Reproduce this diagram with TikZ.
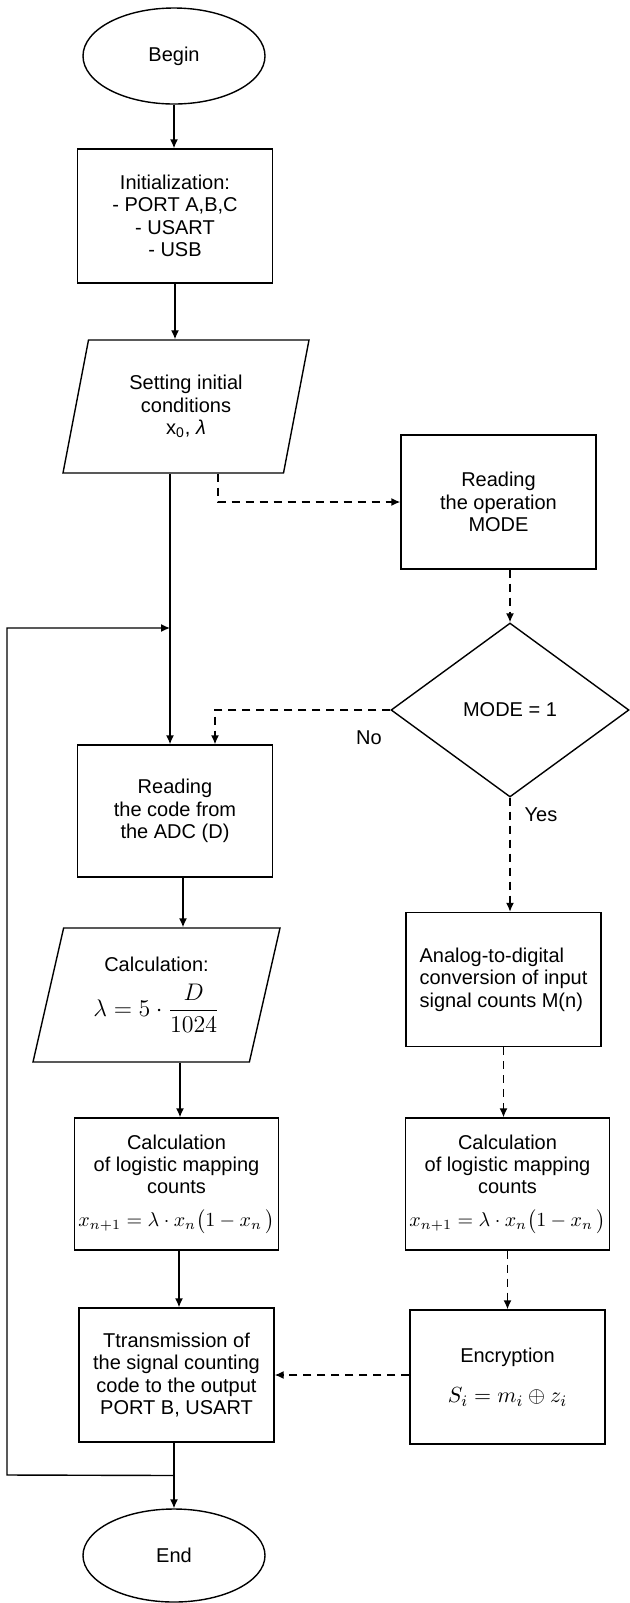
\documentclass[tikz,border=0pt]{standalone}
\usepackage{fontspec}
\setmainfont{Liberation Sans}
\usetikzlibrary{shapes.geometric,arrows.meta,calc}
\begin{document}
\begin{tikzpicture}[x=0.5pt,y=-0.5pt,
  font=\fontsize{10}{11.2}\selectfont,
  line width=0.7pt,
  arr/.style={-{Latex[length=4.5pt,width=4pt]}},
  darr/.style={arr, dash pattern=on 4pt off 3pt},
  box/.style={draw, rectangle, minimum width=97.5pt, minimum height=67pt, align=center, inner sep=2pt},
  term/.style={draw, ellipse, minimum width=91pt, minimum height=48pt},
  para/.style={draw, trapezium, trapezium left angle=69, trapezium right angle=111,
    trapezium stretches body, minimum width=123pt, minimum height=66.5pt, align=center, inner sep=1pt},
  dec/.style={draw, diamond, minimum width=119pt, minimum height=87pt, inner sep=0pt}
]
\useasboundingbox (0,0) rectangle (629,1603);

\node[term] (begin) at (174,56) {Begin};
\node[box] (init) at (175,216) {Initialization:\\- PORT A,B,C\\- USART\\- USB};
\node[para] (set) at (186,406.5) {Setting initial\\conditions\\x\textsubscript{0}, \textit{λ}};
\node[box] (mode) at (498.5,502) {Reading\\the operation\\MODE};
\node[dec] (dec) at (510,710) {MODE = 1};
\node (nol) at (369,738) {No};
\node (yesl) at (541,815) {Yes};
\node[box, minimum height=66pt] (adc) at (175,811) {Reading\\the code from\\the ADC (D)};
\node[box, align=left] (ana) at (503.5,979.5) {Analog-to-digital\\conversion of input\\signal counts M(n)};
\node[para, minimum width=123.5pt, minimum height=67pt] (calc) at (156.5,995)
  {Calculation:\\[5pt]{\large$\displaystyle\lambda = 5\cdot\frac{D}{1024}$}};
\node[box, minimum height=66pt] (log1) at (176.5,1184)
  {Calculation\\of logistic mapping\\counts\\[5pt]$x_{n+1}=\lambda\cdot x_n\bigl(1-x_n\,\bigr)$};
\node[box, minimum height=66pt] (log2) at (507.5,1184)
  {Calculation\\of logistic mapping\\counts\\[5pt]$x_{n+1}=\lambda\cdot x_n\bigl(1-x_n\,\bigr)$};
\node[box] (tx) at (176.5,1375) {Ttransmission of\\the signal counting\\code to the output\\PORT B, USART};
\node[box] (enc) at (507.5,1377) {Encryption\\[9pt]{\fontsize{11}{13}\selectfont$S_i = m_i \oplus z_i$}};
\node[term, minimum height=46.5pt] (end) at (174,1555.5) {End};

% solid main flow
\draw[arr] (begin.south) -- (begin.south |- init.north);
\draw[arr] (init.south) -- (init.south |- set.north);
\draw[arr] ([xshift=-8pt]set.south) -- ([xshift=-8pt]set.south |- adc.north);
\draw[arr] ([xshift=4pt]adc.south) -- ([xshift=4pt]adc.south |- calc.north);
\draw[arr] ([xshift=11.75pt]calc.south) -- ([xshift=11.75pt]calc.south |- log1.north);
\draw[arr] ([xshift=1.25pt]log1.south) -- ([xshift=1.25pt]log1.south |- tx.north);
\draw[arr] (end.north |- tx.south) -- (end.north);

% loop back
\coordinate (lj) at ($(end.north |- tx.south)!0.5!(end.north)$);
\coordinate (lc1) at (7,1475);
\coordinate (lc2) at (7,628);
\coordinate (ltop) at ([xshift=-8pt]set.south |- lc2);
\draw[arr] (lj) -- (lc1) -- (lc2) -- (ltop);

% dashed branch
\draw[darr] ([xshift=16pt]set.south) |- (mode.west);
\draw[darr] (dec.north |- mode.south) -- (dec.north);
\draw[darr] (dec.west) -| ([xshift=20pt]adc.north);
\draw[darr] (dec.south) -- (dec.south |- ana.north);
\draw[darr] (ana.south) -- (ana.south |- log2.north);
\draw[darr] (log2.south) -- (log2.south |- enc.north);
\draw[darr] (tx.east -| enc.west) -- (tx.east);
\end{tikzpicture}
\end{document}
